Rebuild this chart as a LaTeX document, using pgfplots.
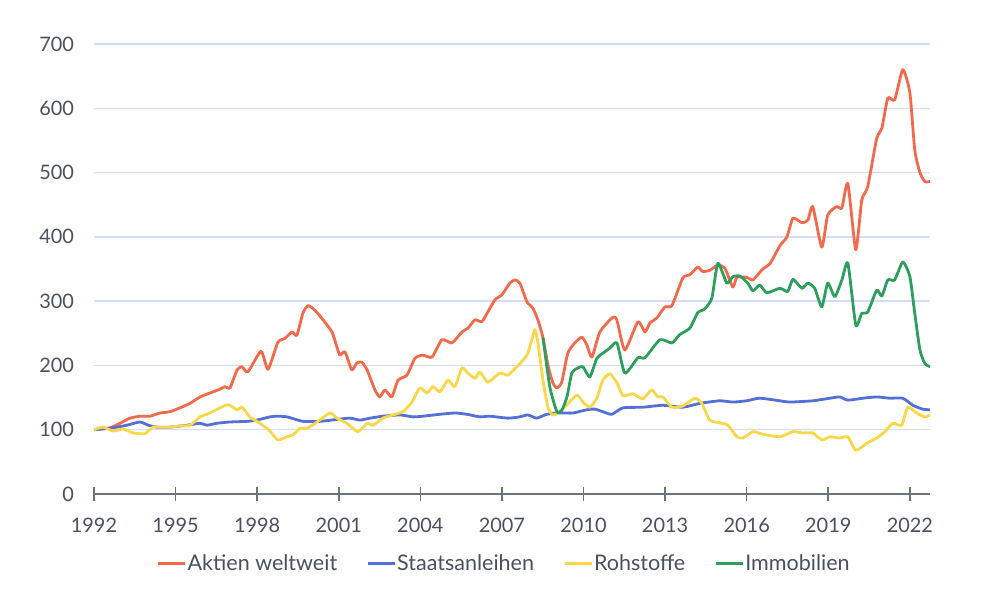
\documentclass[border=0pt]{standalone}
\usepackage{fontspec}
\setmainfont{Lato}
\usepackage{pgfplots}
\pgfplotsset{compat=1.18}
\definecolor{cred}{HTML}{F26A4B}
\definecolor{cblue}{HTML}{5470D6}
\definecolor{cyellow}{HTML}{F8D84A}
\definecolor{cgreen}{HTML}{2E9E5E}
\definecolor{cgrid}{HTML}{D4DDF7}
\definecolor{ctext}{HTML}{4A5060}
\definecolor{caxis}{HTML}{6B7280}
\begin{document}
\begin{tikzpicture}
\path[use as bounding box] (-47bp,-59.5bp) rectangle (449bp,247bp);
\begin{axis}[
  at={(0,0)}, anchor=south west,
  scale only axis, width=418bp, height=225bp,
  xmin=1992, xmax=2022.74, ymin=0, ymax=700,
  axis x line=bottom, axis y line=left,
  x axis line style={-, draw=caxis, line width=0.8bp},
  y axis line style={draw=none},
  xtick={1992,1995,...,2022},
  ytick={0,100,...,700},
  ymajorgrids, grid style={cgrid, line width=0.7bp},
  major x tick style={draw=caxis, line width=0.8bp},
  major y tick style={draw=none},
  major tick length=7bp, tick align=center,
  x tick label style={/pgf/number format/1000 sep={}, yshift=-5bp},
  y tick label style={xshift=-3bp},
  ticklabel style={font=\fontsize{10}{12}\selectfont, text=ctext},
  /pgf/number format/assume math mode=true,
  legend style={at={(0.49,-0.155)}, anchor=center, draw=none, fill=none,
    font=\fontsize{10.8}{12}\selectfont, text=ctext,
    /tikz/every even column/.append style={column sep=14bp},
    nodes={inner xsep=0.5bp},
    legend cell align=left},
  legend columns=4,
  legend image code/.code={\draw[#1, line width=1.5bp] (0bp,0bp) -- (13.5bp,0bp);},
  every axis plot/.append style={line width=1.4bp, smooth, tension=0.35, line join=round},
  clip=false,
]
\addplot[cred] coordinates {(1992,100)(1992.59,103)(1992.96,110)(1993.32,118)(1993.69,121)(1994.06,121)(1994.43,126)(1994.79,128)(1995.16,134)(1995.53,141)(1995.90,151)(1996.26,157)(1996.63,163)(1996.82,167)(1997.00,165)(1997.26,193)(1997.44,198)(1997.66,190)(1998.14,222)(1998.40,194)(1998.76,236)(1999.02,242)(1999.28,252)(1999.46,247)(1999.68,281)(1999.87,293)(2000.12,286)(2000.42,271)(2000.75,252)(2000.93,229)(2001.04,216)(2001.23,221)(2001.48,193)(2001.67,204)(2001.85,205)(2002.04,193)(2002.33,162)(2002.51,151)(2002.70,162)(2002.95,151)(2003.18,177)(2003.51,185)(2003.80,211)(2004.09,216)(2004.43,213)(2004.79,240)(2005.16,235)(2005.53,252)(2005.75,258)(2006.01,271)(2006.26,268)(2006.48,283)(2006.74,302)(2007.00,310)(2007.29,328)(2007.48,333)(2007.66,328)(2007.92,299)(2008.14,289)(2008.32,271)(2008.51,243)(2008.69,201)(2008.87,173)(2009.02,165)(2009.20,174)(2009.42,219)(2009.68,235)(2009.94,244)(2010.12,232)(2010.31,213)(2010.60,252)(2011.08,275)(2011.23,270)(2011.52,224)(2012.00,268)(2012.26,252)(2012.44,266)(2012.70,274)(2012.99,291)(2013.25,293)(2013.65,336)(2013.91,341)(2014.20,353)(2014.38,346)(2014.64,348)(2014.94,356)(2015.20,351)(2015.49,322)(2015.64,337)(2016.00,337)(2016.23,333)(2016.59,350)(2016.85,358)(2017.22,386)(2017.48,400)(2017.70,429)(2018.03,422)(2018.25,426)(2018.43,447)(2018.76,384)(2018.98,434)(2019.31,447)(2019.50,445)(2019.72,483)(2020.01,380)(2020.23,457)(2020.45,478)(2020.78,553)(2020.97,569)(2021.19,616)(2021.44,613)(2021.74,660)(2022.00,624)(2022.18,535)(2022.37,500)(2022.55,486)(2022.74,486)};
\addlegendentry{Aktien weltweit}
\addplot[cblue] coordinates {(1992,100)(1992.70,103)(1993.21,107)(1993.69,112)(1993.99,107)(1994.32,104)(1994.79,104)(1995.42,107)(1995.90,110)(1996.15,107)(1996.52,110)(1996.99,112)(1997.62,113)(1997.99,115)(1998.47,120)(1998.73,121)(1999.09,120)(1999.68,113)(2000.31,113)(2000.93,116)(2001.41,118)(2001.78,115)(2002.15,118)(2002.62,121)(2003.25,123)(2003.73,120)(2004.09,121)(2004.72,124)(2005.27,126)(2005.71,124)(2006.19,120)(2006.56,121)(2007.22,118)(2007.66,120)(2007.95,123)(2008.28,118)(2008.65,124)(2009.13,126)(2009.61,126)(2010.12,131)(2010.42,132)(2010.71,128)(2011.04,124)(2011.45,134)(2012.18,135)(2012.92,138)(2013.65,135)(2014.28,141)(2015.01,145)(2015.49,143)(2016.00,145)(2016.48,149)(2017.22,145)(2017.58,143)(2018.43,145)(2019.06,149)(2019.42,151)(2019.72,146)(2020.27,149)(2020.78,151)(2021.26,149)(2021.74,149)(2022.11,138)(2022.47,132)(2022.74,131)};
\addlegendentry{Staatsanleihen}
\addplot[cyellow] coordinates {(1992,100)(1992.33,104)(1992.70,98)(1993.07,101)(1993.43,95)(1993.87,94)(1994.17,104)(1994.43,104)(1994.79,104)(1995.16,106)(1995.53,107)(1995.90,120)(1996.26,126)(1996.63,134)(1996.93,139)(1997.26,131)(1997.44,135)(1997.73,120)(1998.10,110)(1998.47,98)(1998.76,84)(1999.09,89)(1999.32,92)(1999.57,102)(1999.83,102)(2000.20,112)(2000.68,126)(2000.93,118)(2001.30,110)(2001.70,97)(2002.04,110)(2002.26,107)(2002.62,118)(2002.99,123)(2003.36,128)(2003.69,143)(2003.98,165)(2004.24,157)(2004.46,167)(2004.72,159)(2005.01,177)(2005.27,167)(2005.53,196)(2005.75,188)(2006.01,180)(2006.19,190)(2006.48,174)(2006.92,188)(2007.22,185)(2007.55,198)(2007.92,216)(2008.10,240)(2008.21,256)(2008.32,236)(2008.51,177)(2008.69,135)(2008.87,123)(2009.06,126)(2009.39,139)(2009.76,154)(2009.98,143)(2010.23,135)(2010.49,149)(2010.71,177)(2010.97,187)(2011.23,173)(2011.45,153)(2011.81,156)(2012.18,148)(2012.51,162)(2012.73,151)(2012.92,151)(2013.25,135)(2013.65,137)(2014.09,149)(2014.35,141)(2014.64,115)(2015.08,110)(2015.31,107)(2015.64,89)(2015.86,87)(2016.23,97)(2016.59,93)(2017.22,89)(2017.70,97)(2018.06,95)(2018.43,95)(2018.76,84)(2019.06,89)(2019.42,87)(2019.72,89)(2020.01,68)(2020.42,79)(2020.78,87)(2021.08,97)(2021.37,110)(2021.70,107)(2021.92,135)(2022.25,126)(2022.55,120)(2022.74,123)};
\addlegendentry{Rohstoffe}
\addplot[cgreen] coordinates {(2008.51,243)(2008.76,167)(2009.02,128)(2009.20,130)(2009.39,151)(2009.57,188)(2009.79,196)(2009.98,198)(2010.23,182)(2010.49,211)(2010.71,219)(2010.97,227)(2011.23,235)(2011.52,188)(2012.00,212)(2012.26,212)(2012.81,240)(2013.25,235)(2013.54,248)(2013.91,258)(2014.20,282)(2014.46,288)(2014.72,305)(2014.94,359)(2015.27,328)(2015.49,338)(2015.75,339)(2016.04,328)(2016.23,316)(2016.48,325)(2016.74,313)(2017.22,320)(2017.51,315)(2017.70,334)(2018.03,320)(2018.25,328)(2018.50,320)(2018.76,291)(2018.98,328)(2019.24,307)(2019.50,333)(2019.72,359)(2020.01,263)(2020.23,281)(2020.45,283)(2020.78,317)(2020.97,308)(2021.19,333)(2021.44,333)(2021.74,361)(2022.00,338)(2022.18,281)(2022.37,224)(2022.55,203)(2022.74,198)};
\addlegendentry{Immobilien}
\end{axis}
\end{tikzpicture}
\end{document}
